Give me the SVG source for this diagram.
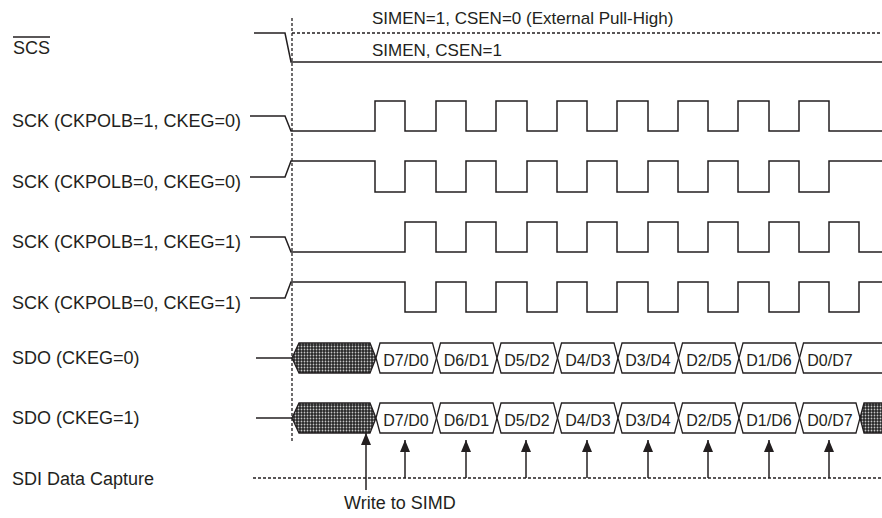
<svg xmlns="http://www.w3.org/2000/svg" width="882" height="518" viewBox="0 0 882 518">
<style>
text{font-family:"Liberation Sans",Arial,sans-serif;font-size:17px;fill:#231f20}
.l{font-size:18px}
.d{font-size:16px;text-anchor:middle}
.w{fill:none;stroke:#231f20;stroke-width:1.5}
.dash{fill:none;stroke:#231f20;stroke-width:1.3;stroke-dasharray:3 2}
.hx{fill:#fff;stroke:#231f20;stroke-width:1.3}
.ht{fill:url(#hatch);stroke:#231f20;stroke-width:1.3}
.ar{stroke:#231f20;stroke-width:1.5;marker-end:url(#ah)}
</style>
<defs>
<pattern id="hatch" width="3" height="3" patternUnits="userSpaceOnUse"><rect width="3" height="3" fill="#262626"/><circle cx="1.5" cy="1.5" r="0.9" fill="#c8c8c8"/></pattern>
<marker id="ah" markerUnits="userSpaceOnUse" viewBox="0 0 12 10" refX="12" refY="5" markerWidth="12" markerHeight="10" orient="auto"><path d="M0,0 L12,5 L0,10 z" fill="#231f20"/></marker>
</defs>
<rect width="882" height="518" fill="#fff"/>
<line class="dash" x1="292" y1="18" x2="292" y2="441"/>

<g id="scs">
<text class="l" x="13" y="54">SCS</text>
<line x1="13" y1="37" x2="50" y2="37" stroke="#231f20" stroke-width="1.3"/>
<path class="w" d="M254,33 H285 L291,62 H882"/>
<line class="dash" x1="292" y1="33" x2="882" y2="33"/>
<text x="372" y="24">SIMEN=1, CSEN=0 (External Pull-High)</text>
<text x="372" y="56">SIMEN, CSEN=1</text>
</g>

<g id="sck1">
<text class="l" x="12" y="127">SCK (CKPOLB=1, CKEG=0)</text>
<path class="w" d="M250,116 H285 L291,131 H375 V101 H405 V131 H436 V101 H466 V131 H496 V101 H527 V131 H557 V101 H587 V131 H617 V101 H648 V131 H678 V101 H708 V131 H738 V101 H769 V131 H799 V101 H829 V131 H882"/>
</g>
<g id="sck2">
<text class="l" x="12" y="188">SCK (CKPOLB=0, CKEG=0)</text>
<path class="w" d="M250,177 H285 L291,161 H375 V192 H405 V161 H436 V192 H466 V161 H496 V192 H527 V161 H557 V192 H587 V161 H617 V192 H648 V161 H678 V192 H708 V161 H738 V192 H769 V161 H799 V192 H829 V161 H882"/>
</g>
<g id="sck3">
<text class="l" x="12" y="248">SCK (CKPOLB=1, CKEG=1)</text>
<path class="w" d="M250,237 H285 L291,252 H405 V222 H436 V252 H466 V222 H496 V252 H527 V222 H557 V252 H587 V222 H617 V252 H648 V222 H678 V252 H708 V222 H738 V252 H769 V222 H799 V252 H829 V222 H859 V252 H882"/>
</g>
<g id="sck4">
<text class="l" x="12" y="309">SCK (CKPOLB=0, CKEG=1)</text>
<path class="w" d="M250,298 H285 L291,282 H405 V312 H436 V282 H466 V312 H496 V282 H527 V312 H557 V282 H587 V312 H617 V282 H648 V312 H678 V282 H708 V312 H738 V282 H769 V312 H799 V282 H829 V312 H859 V282 H882"/>
</g>

<g id="sdo0">
<text class="l" x="12" y="364">SDO (CKEG=0)</text>
<line class="w" x1="256" y1="358" x2="292" y2="358"/>
<polygon class="ht" points="292,358 299,343 370,343 376,358 370,373 299,373"/>
<polygon class="hx" points="376,358 380,343 432.5,343 436.5,358 432.5,373 380,373"/>
<polygon class="hx" points="436.5,358 440.5,343 493,343 497,358 493,373 440.5,373"/>
<polygon class="hx" points="497,358 501,343 553.5,343 557.5,358 553.5,373 501,373"/>
<polygon class="hx" points="557.5,358 561.5,343 614,343 618,358 614,373 561.5,373"/>
<polygon class="hx" points="618,358 622,343 674.5,343 678.5,358 674.5,373 622,373"/>
<polygon class="hx" points="678.5,358 682.5,343 735,343 739,358 735,373 682.5,373"/>
<polygon class="hx" points="739,358 743,343 795.5,343 799.5,358 795.5,373 743,373"/>
<path class="hx" d="M882,343 H803.5 L799.5,358 L803.5,373 H882"/>
<text class="d" x="406" y="366">D7/D0</text>
<text class="d" x="466.5" y="366">D6/D1</text>
<text class="d" x="527" y="366">D5/D2</text>
<text class="d" x="588" y="366">D4/D3</text>
<text class="d" x="648" y="366">D3/D4</text>
<text class="d" x="709" y="366">D2/D5</text>
<text class="d" x="769" y="366">D1/D6</text>
<text class="d" x="830" y="366">D0/D7</text>
</g>

<g id="sdo1">
<text class="l" x="12" y="424">SDO (CKEG=1)</text>
<line class="w" x1="256" y1="418" x2="292" y2="418"/>
<polygon class="ht" points="292,418 299,403 370,403 376,418 370,433 299,433"/>
<polygon class="hx" points="376,418 380,403 432.5,403 436.5,418 432.5,433 380,433"/>
<polygon class="hx" points="436.5,418 440.5,403 493,403 497,418 493,433 440.5,433"/>
<polygon class="hx" points="497,418 501,403 553.5,403 557.5,418 553.5,433 501,433"/>
<polygon class="hx" points="557.5,418 561.5,403 614,403 618,418 614,433 561.5,433"/>
<polygon class="hx" points="618,418 622,403 674.5,403 678.5,418 674.5,433 622,433"/>
<polygon class="hx" points="678.5,418 682.5,403 735,403 739,418 735,433 682.5,433"/>
<polygon class="hx" points="739,418 743,403 795.5,403 799.5,418 795.5,433 743,433"/>
<polygon class="hx" points="799.5,418 803.5,403 856,403 860,418 856,433 803.5,433"/>
<path class="ht" d="M883,403 H864 L860,418 L864,433 H883"/>
<text class="d" x="406" y="426">D7/D0</text>
<text class="d" x="466.5" y="426">D6/D1</text>
<text class="d" x="527" y="426">D5/D2</text>
<text class="d" x="588" y="426">D4/D3</text>
<text class="d" x="648" y="426">D3/D4</text>
<text class="d" x="709" y="426">D2/D5</text>
<text class="d" x="769" y="426">D1/D6</text>
<text class="d" x="830" y="426">D0/D7</text>
</g>

<g id="sdi">
<text class="l" x="12" y="485">SDI Data Capture</text>
<line class="dash" x1="253" y1="478" x2="882" y2="478"/>
</g>

<g id="write">
<text class="l" x="344" y="509">Write to SIMD</text>
</g>

<g id="connectors">
<line class="ar" x1="366" y1="490" x2="366" y2="433"/>
<line class="ar" x1="405" y1="478" x2="405" y2="440"/>
<line class="ar" x1="466" y1="478" x2="466" y2="440"/>
<line class="ar" x1="526" y1="478" x2="526" y2="440"/>
<line class="ar" x1="587" y1="478" x2="587" y2="440"/>
<line class="ar" x1="648" y1="478" x2="648" y2="440"/>
<line class="ar" x1="708" y1="478" x2="708" y2="440"/>
<line class="ar" x1="769" y1="478" x2="769" y2="440"/>
<line class="ar" x1="829" y1="478" x2="829" y2="440"/>
</g>
</svg>
